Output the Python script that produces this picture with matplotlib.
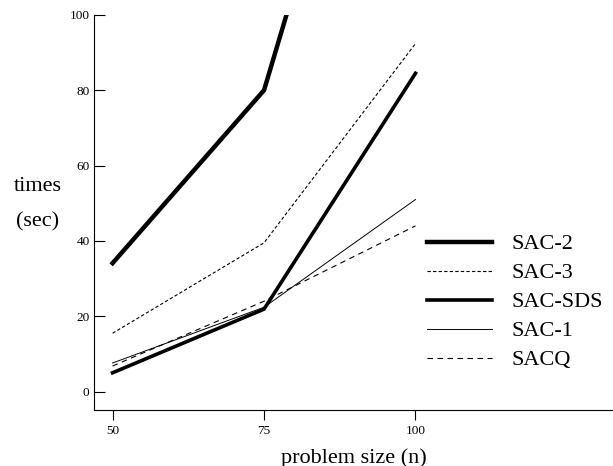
import matplotlib
matplotlib.use('Agg')
import matplotlib.pyplot as plt

plt.rcParams['font.family'] = 'serif'
plt.rcParams['font.serif'] = ['Liberation Serif', 'DejaVu Serif']

# problem size
n = [50, 75, 100]

# times in seconds (SAC-2 runs off the top of the plot)
sac2 = [34.1, 80.0, 215.0]
sac3 = [15.5, 39.5, 92.4]
sac_sds = [5.0, 21.9, 84.5]
sac1 = [7.6, 22.4, 51.0]
sacq = [6.8, 24.0, 44.0]

labels = ['SAC-2', 'SAC-3', 'SAC-SDS', 'SAC-1', 'SACQ']

fig = plt.figure(figsize=(6.13, 4.66), dpi=100)
ax = fig.add_axes([0.153, 0.12, 0.847, 0.848])

l1, = ax.plot(n, sac2, color='black', linewidth=3.2, solid_joinstyle='miter')
l2, = ax.plot(n, sac3, color='black', linewidth=0.8, dashes=(3, 2))
l3, = ax.plot(n, sac_sds, color='black', linewidth=2.6, solid_joinstyle='miter')
l4, = ax.plot(n, sac1, color='black', linewidth=0.7)
l5, = ax.plot(n, sacq, color='black', linewidth=0.8, dashes=(5, 4))

ax.set_xlim(46.9, 132.6)
ax.set_ylim(-4.9, 100)
ax.set_xticks(n)
ax.set_yticks([0, 20, 40, 60, 80, 100])
ax.tick_params(axis='x', labelsize=9.5, length=7.5, width=0.8, direction='out', pad=3)
ax.tick_params(axis='y', labelsize=9.5, length=8, width=0.8, direction='in', pad=3)
for s in ['top', 'right']:
    ax.spines[s].set_visible(False)

ax.set_xlabel('problem size (n)', fontsize=16, labelpad=8)
fig.text(0.062, 0.599, 'times', fontsize=16, ha='center', va='center')
fig.text(0.062, 0.524, '(sec)', fontsize=16, ha='center', va='center')

ax.legend([l1, l2, l3, l4, l5], labels, loc='upper left',
          bbox_to_anchor=(0.697, 0.498), bbox_transform=fig.transFigure,
          frameon=False, fontsize=16, borderpad=0,
          handlelength=2.9, handletextpad=0.9, labelspacing=0.38,
          borderaxespad=0)

fig.savefig('out.png', dpi=100)
